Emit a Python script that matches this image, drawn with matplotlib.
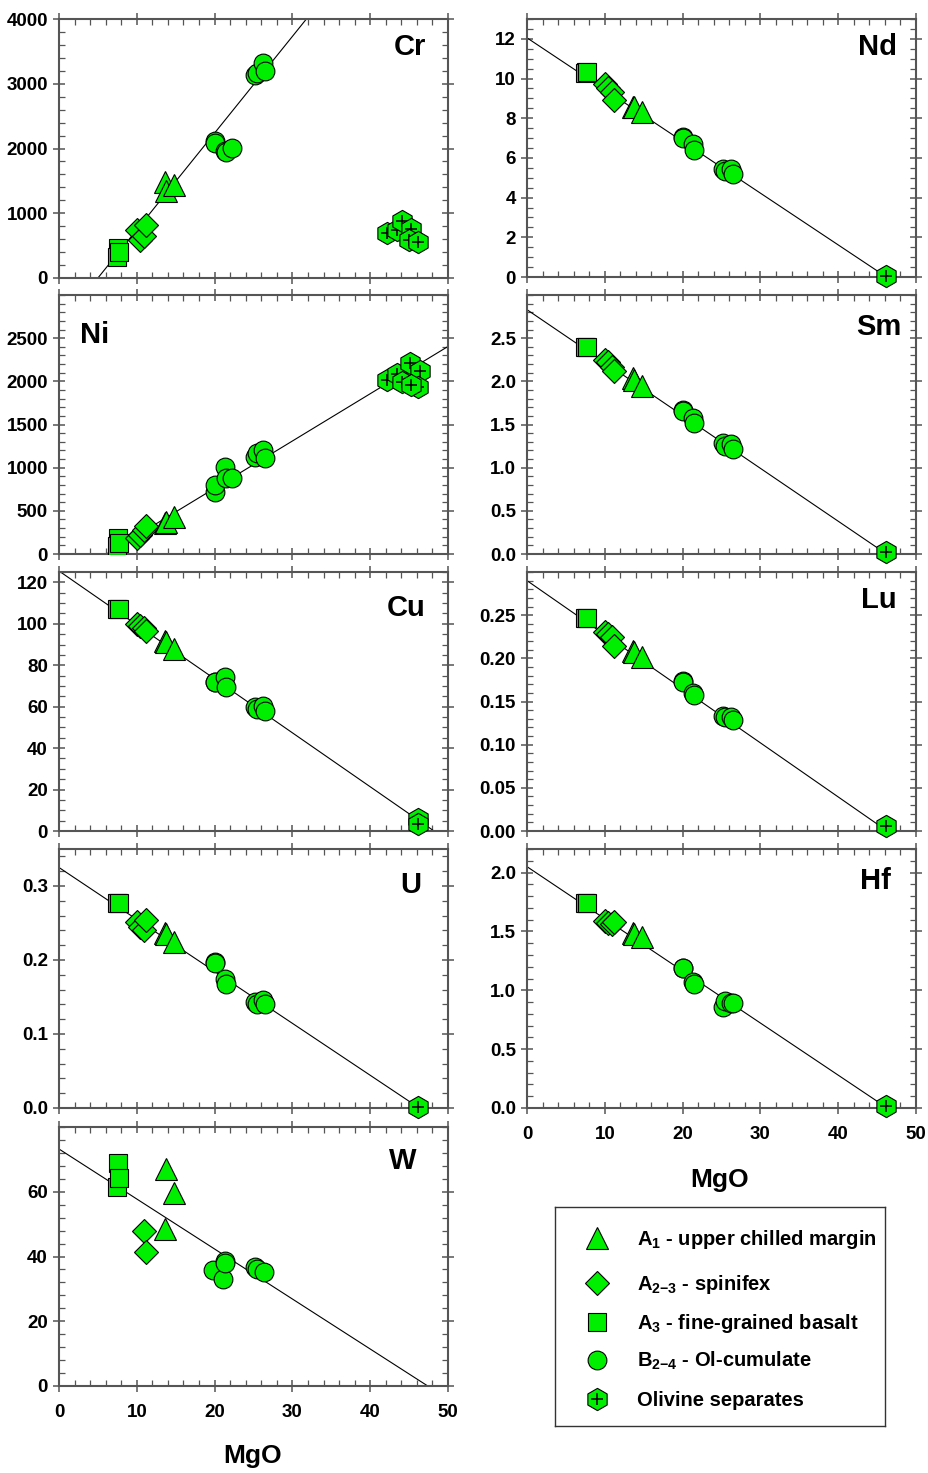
import numpy as np
import matplotlib
matplotlib.use('Agg')
import matplotlib.pyplot as plt
from matplotlib.ticker import MultipleLocator, FormatStrFormatter

plt.rcParams['font.family'] = ['Liberation Sans', 'DejaVu Sans']
plt.rcParams['font.weight'] = 'bold'
plt.rcParams['mathtext.fontset'] = 'custom'
plt.rcParams['mathtext.rm'] = 'Liberation Sans:bold'
plt.rcParams['mathtext.it'] = 'Liberation Sans:bold'
plt.rcParams['mathtext.bf'] = 'Liberation Sans:bold'

GREEN = '#00ee00'
nan = np.nan

# MgO (wt%) of the sample groups
mgo_a1 = [13.6, 13.8, 14.8]
mgo_a23 = [10.0, 10.4, 10.9, 11.2]
mgo_a3 = [7.6, 7.5, 7.7]
mgo_b = [20.0, 20.1, 21.3, 21.5, 22.3, 25.2, 25.4, 26.2, 26.5]

# Cr
cr_a1 = [1480, 1340, 1430]
cr_a23 = [740, 580, 650, 820]
cr_a3 = [460, 330, 400]
cr_b = [2120, 2090, 1960, 1940, 2010, 3140, 3160, 3320, 3190]
cr_ol_mgo = [42.2, 43.5, 44.1, 45.3, 45.0, 46.2]
cr_ol = [700, 740, 880, 760, 590, 550]
cr_line = ([5.0, 31.8], [0, 4000])

# Ni
ni_a1 = [360, 375, 430]
ni_a23 = [185, 220, 280, 320]
ni_a3 = [185, 88, 130]
ni_b = [723, 800, 1012, 877, 885, 1127, 1165, 1204, 1108]
ni_ol_mgo = [42.1, 43.4, 44.1, 45.1, 46.4, 46.2, 45.3]
ni_ol = [2010, 2090, 1995, 2215, 2120, 1940, 1960]
ni_line = ([6.1, 50], [0, 2404])

# Cu
cu_a1 = [91.5, 91.0, 87.7]
cu_a23 = [100, 99, 97.9, 96.3]
cu_a3 = [107, 107, 107]
cu_b = [72.1, 72.0, 74.2, 69.7, nan, 60.0, 58.9, 60.5, 58.1]
cu_ol_mgo = [46.2, 46.2]
cu_ol = [6.0, 3.5]
cu_line = ([0, 48.2], [125.5, 0])

# U
u_a1 = [0.236, 0.235, 0.225]
u_a23 = [0.251, 0.245, 0.240, 0.254]
u_a3 = [0.277, 0.277, 0.277]
u_b = [0.197, 0.196, 0.175, 0.168, nan, 0.143, 0.140, 0.146, 0.141]
u_ol_mgo = [46.2]
u_ol = [0.002]
u_line = ([0, 46.3], [0.325, 0])

# W
w_a1 = [48.5, 67.0, 59.6]
w_a23 = [nan, nan, 48.0, 41.3]
w_a3 = [68.8, 61.6, 64.4]
w_mgo_b = [19.8, 21.1, 21.3, 21.3, 25.2, 25.4, 26.4]
w_b = [35.7, 33.1, 38.7, 38.0, 36.7, 36.2, 35.1]
w_ol_mgo = []
w_ol = []
w_line = ([0, 47.4], [73.2, 0])

# Nd
nd_a1 = [8.58, 8.55, 8.3]
nd_a23 = [9.72, 9.5, 9.3, 8.93]
nd_a3 = [10.35, 10.3, 10.35]
nd_b = [7.05, 7.0, 6.68, 6.41, nan, 5.46, 5.34, 5.46, 5.18]
nd_ol_mgo = [46.2]
nd_ol = [0.03]
nd_line = ([0, 46.2], [12.05, 0])

# Sm
sm_a1 = [2.04, 2.02, 1.95]
sm_a23 = [2.25, 2.22, 2.17, 2.12]
sm_a3 = [2.40, 2.40, 2.40]
sm_b = [1.67, 1.66, 1.57, 1.52, nan, 1.28, 1.25, 1.27, 1.22]
sm_ol_mgo = [46.2]
sm_ol = [0.02]
sm_line = ([0, 46.2], [2.83, 0])

# Lu
lu_a1 = [0.208, 0.207, 0.201]
lu_a23 = [0.231, 0.228, 0.225, 0.214]
lu_a3 = [0.247, 0.247, 0.247]
lu_b = [0.174, 0.173, 0.160, 0.158, nan, 0.133, 0.132, 0.132, 0.128]
lu_ol_mgo = [46.2]
lu_ol = [0.006]
lu_line = ([0, 46.3], [0.290, 0])

# Hf
hf_a1 = [1.49, 1.48, 1.45]
hf_a23 = [1.59, 1.57, 1.56, 1.58]
hf_a3 = [1.74, 1.74, 1.74]
hf_b = [1.19, 1.19, 1.07, 1.05, nan, 0.86, 0.91, 0.89, 0.89]
hf_ol_mgo = [46.2]
hf_ol = [0.015]
hf_line = ([0, 46.3], [2.05, 0])

legend_labels = ['A$_{1}$ - upper chilled margin', 'A$_{2{-}3}$ - spinifex',
                 'A$_{3}$ - fine-grained basalt', 'B$_{2{-}4}$ - Ol-cumulate',
                 'Olivine separates']

fig = plt.figure(figsize=(9.29, 14.73), dpi=100)


def px_axes(x0, y0, x1, y1):
    return fig.add_axes([x0 / 929, 1 - y1 / 1473, (x1 - x0) / 929, (y1 - y0) / 1473])


def markers(ax, x, y, kind):
    if len(x) == 0:
        return
    if kind == 'a1':
        ax.plot(x, y, '^', ms=16.5, mfc=GREEN, mec='black', mew=0.8, ls='none', zorder=4)
    elif kind == 'a23':
        ax.plot(x, y, 'D', ms=12.5, mfc=GREEN, mec='black', mew=0.8, ls='none', zorder=3)
    elif kind == 'a3':
        ax.plot(x, y, 's', ms=13.5, mfc=GREEN, mec='black', mew=0.8, ls='none', zorder=3)
    elif kind == 'b':
        ax.plot(x, y, 'o', ms=13.5, mfc=GREEN, mec='black', mew=0.8, ls='none', zorder=5)
    elif kind == 'ol':
        for xi, yi in zip(x, y):
            ax.plot([xi], [yi], 'h', ms=16, mfc=GREEN, mec='black', mew=0.8, ls='none', zorder=6, clip_on=False)
            ax.plot([xi], [yi], '+', ms=8, mec='black', mew=1.1, ls='none', zorder=6, clip_on=False)


def draw_panel(ax, name, a1, a23, a3, b, ol_mgo, ol, line, ymax, ymajor, yminor,
               ytop, yfmt, lab_x, lab_y, lab_ha='right', b_mgo=mgo_b, xlabels=False):
    ax.plot(line[0], line[1], color='black', lw=0.8, zorder=2)
    markers(ax, mgo_a3, a3, 'a3')
    markers(ax, mgo_a23, a23, 'a23')
    markers(ax, mgo_a1, a1, 'a1')
    markers(ax, b_mgo, b, 'b')
    markers(ax, ol_mgo, ol, 'ol')
    ax.set_xlim(0, 50)
    ax.set_ylim(0, ymax)
    ax.set_xticks(np.arange(0, 51, 10))
    ax.xaxis.set_minor_locator(MultipleLocator(2))
    ax.set_yticks(np.arange(0, ytop + ymajor / 2, ymajor))
    ax.yaxis.set_minor_locator(MultipleLocator(yminor))
    ax.yaxis.set_major_formatter(FormatStrFormatter(yfmt))
    ax.tick_params(which='major', direction='inout', length=8, width=1.1, color='#555555',
                   top=True, right=True, labelsize=13.5, pad=4)
    ax.tick_params(which='minor', direction='in', length=4, width=0.9, color='#555555',
                   top=True, right=True)
    ax.tick_params(axis='x', pad=9, labelbottom=xlabels)
    for sp in ax.spines.values():
        sp.set_color('#555555')
        sp.set_linewidth(1.5)
    ax.text(lab_x, lab_y, name, transform=ax.transAxes, ha=lab_ha, va='center',
            fontsize=21, fontweight='bold')


ax_cr = px_axes(59, 19, 448, 278)
draw_panel(ax_cr, 'Cr', cr_a1, cr_a23, cr_a3, cr_b, cr_ol_mgo, cr_ol, cr_line,
           4000, 1000, 200, 4000, '%d', 0.943, 0.89)
ax_ni = px_axes(59, 295, 448, 554)
draw_panel(ax_ni, 'Ni', ni_a1, ni_a23, ni_a3, ni_b, ni_ol_mgo, ni_ol, ni_line,
           3000, 500, 100, 2500, '%d', 0.055, 0.845, lab_ha='left')
ax_cu = px_axes(59, 572, 448, 831)
draw_panel(ax_cu, 'Cu', cu_a1, cu_a23, cu_a3, cu_b, cu_ol_mgo, cu_ol, cu_line,
           125, 20, 5, 120, '%d', 0.943, 0.86)
ax_u = px_axes(59, 849, 448, 1108)
draw_panel(ax_u, 'U', u_a1, u_a23, u_a3, u_b, u_ol_mgo, u_ol, u_line,
           0.35, 0.1, 0.02, 0.3, '%.1f', 0.93, 0.86)
ax_w = px_axes(59, 1127, 448, 1386)
draw_panel(ax_w, 'W', w_a1, w_a23, w_a3, w_b, w_ol_mgo, w_ol, w_line,
           80, 20, 4, 60, '%d', 0.92, 0.87, b_mgo=w_mgo_b, xlabels=True)

ax_nd = px_axes(527, 19, 916, 277)
draw_panel(ax_nd, 'Nd', nd_a1, nd_a23, nd_a3, nd_b, nd_ol_mgo, nd_ol, nd_line,
           13, 2, 0.5, 12, '%d', 0.952, 0.89)
ax_sm = px_axes(527, 295, 916, 554)
draw_panel(ax_sm, 'Sm', sm_a1, sm_a23, sm_a3, sm_b, sm_ol_mgo, sm_ol, sm_line,
           3.0, 0.5, 0.1, 2.5, '%.1f', 0.962, 0.875)
ax_lu = px_axes(527, 572, 916, 831)
draw_panel(ax_lu, 'Lu', lu_a1, lu_a23, lu_a3, lu_b, lu_ol_mgo, lu_ol, lu_line,
           0.30, 0.05, 0.01, 0.25, '%.2f', 0.95, 0.89)
ax_hf = px_axes(527, 849, 916, 1108)
draw_panel(ax_hf, 'Hf', hf_a1, hf_a23, hf_a3, hf_b, hf_ol_mgo, hf_ol, hf_line,
           2.2, 0.5, 0.1, 2.0, '%.1f', 0.935, 0.875, xlabels=True)

fig.text(720 / 929, 1 - 1180 / 1473, 'MgO', ha='center', va='center', fontsize=19, fontweight='bold')
fig.text(253 / 929, 1 - 1456 / 1473, 'MgO', ha='center', va='center', fontsize=19, fontweight='bold')

# legend box
ax_leg = px_axes(555, 1207, 885, 1426)
ax_leg.set_xlim(0, 1)
ax_leg.set_ylim(0, 1)
ax_leg.set_xticks([])
ax_leg.set_yticks([])
for sp in ax_leg.spines.values():
    sp.set_color('#333333')
    sp.set_linewidth(1.0)
row_y = [0.858, 0.653, 0.475, 0.301, 0.123]
kinds = ['a1', 'a23', 'a3', 'b', 'ol']
for ry, kind, lab in zip(row_y, kinds, legend_labels):
    markers(ax_leg, [0.127], [ry], kind)
    ax_leg.text(0.248, ry - 0.03, lab, ha='left', va='baseline', fontsize=14.5, fontweight='bold')

fig.savefig('out.png', dpi=100)
